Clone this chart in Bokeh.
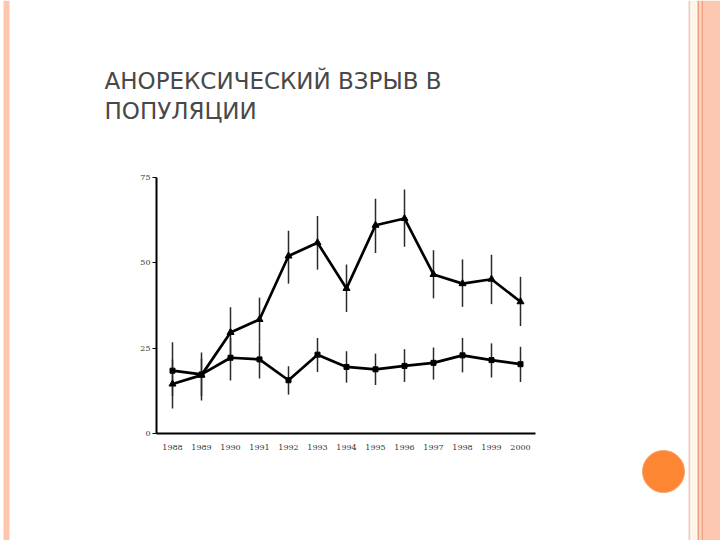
from bokeh.plotting import figure
from bokeh.models import FixedTicker
from bokeh.core.properties import value
from bokeh.embed import file_html
from bokeh.resources import INLINE

years = [1988, 1989, 1990, 1991, 1992, 1993, 1994, 1995, 1996, 1997, 1998, 1999, 2000]

# upper series (triangles)
upper = [14.5, 17.1, 29.6, 33.4, 52.0, 55.9, 42.5, 61.0, 63.0, 46.6, 43.9, 45.2, 38.6]
upper_lo = [7.3, 11.0, 22.0, 27.0, 43.9, 48.0, 35.6, 52.9, 54.7, 39.6, 37.1, 37.9, 31.5]
upper_hi = [21.7, 23.7, 37.0, 39.8, 59.4, 63.7, 49.5, 68.8, 71.5, 53.7, 51.0, 52.4, 45.9]

# lower series (squares)
lower = [18.4, 17.3, 22.2, 21.7, 15.6, 23.1, 19.5, 18.8, 19.8, 20.7, 22.9, 21.5, 20.3]
lower_lo = [11.0, 9.7, 15.5, 16.1, 11.4, 18.0, 14.9, 14.2, 15.1, 15.8, 17.9, 16.4, 15.1]
lower_hi = [26.7, 22.0, 28.0, 27.0, 19.7, 28.0, 24.1, 23.4, 24.7, 25.2, 28.0, 26.4, 25.4]

y_ticks = [0, 25, 50, 75]
title_lines = ["АНОРЕКСИЧЕСКИЙ ВЗРЫВ В", "ПОПУЛЯЦИИ"]

W, H = 720, 540
# pixel layout of the slide: 1988 at x=172, 29px per year; y=0 at 433, y=75 at 177
px_year = 29.0
px_unit = 256 / 75.0
x0 = 1988 - 172 / px_year
y_top = 75 + 177 / px_unit

def fx(px):
    return x0 + px / px_year

def fy(py):
    return y_top - py / px_unit

p = figure(width=W, height=H, x_range=(fx(0), fx(W)), y_range=(fy(H), fy(0)),
           output_backend="svg", toolbar_location=None, min_border=0)
p.outline_line_color = None
p.xgrid.grid_line_color = None
p.ygrid.grid_line_color = None

# slide decoration
stripes = [(3, 9, "#FDC7AE"), (688, 690, "#EBCDBE"), (690, 697, "#FFF6EA"),
           (697, 699, "#EE9F7F"), (699, 701, "#FAD2C0"), (701, 703, "#EE9F7F"),
           (703, 720, "#FDC8B2")]
p.quad(left=[fx(s[0]) for s in stripes], right=[fx(s[1]) for s in stripes],
       top=fy(0), bottom=fy(H), fill_color=[s[2] for s in stripes], line_color=None)
p.scatter([fx(663)], [fy(471)], marker="circle", size=42, fill_color="#FC8632",
          line_color="#F4A46A", line_width=1)

for i, t in enumerate(title_lines):
    p.text([fx(104)], [fy(80 + 30 * i)], text=[t], text_font=value("DejaVu Sans"),
           text_font_size="23px", text_color="#484848", text_baseline="alphabetic")

# error bars
p.segment(x0=years, y0=upper_lo, x1=years, y1=upper_hi, line_color="#2a2a2a", line_width=1.5)
p.segment(x0=years, y0=lower_lo, x1=years, y1=lower_hi, line_color="#2a2a2a", line_width=1.5)

p.line(years, upper, line_color="black", line_width=2.7)
p.scatter(years, upper, marker="triangle", size=7, color="black")
p.line(years, lower, line_color="black", line_width=2.7)
p.scatter(years, lower, marker="square", size=5, color="black")

p.xaxis.ticker = FixedTicker(ticks=years)
p.yaxis.ticker = FixedTicker(ticks=y_ticks)
p.xaxis.fixed_location = 0
p.yaxis.fixed_location = fx(156)
p.xaxis.bounds = (fx(156), fx(535))
p.yaxis.bounds = (0, 75)
for ax in (p.xaxis, p.yaxis):
    ax.axis_line_color = "black"
    ax.axis_line_width = 2
    ax.major_label_text_font = "DejaVu Serif"
    ax.major_label_text_font_size = "8px"
    ax.major_label_text_color = "#333333"
    ax.minor_tick_line_color = None
p.xaxis.major_tick_line_color = None
p.xaxis.major_label_standoff = 5
p.yaxis.major_tick_in = 0
p.yaxis.major_tick_out = 4
p.yaxis.major_label_standoff = 2

open("out.html", "w").write(file_html(p, INLINE))
